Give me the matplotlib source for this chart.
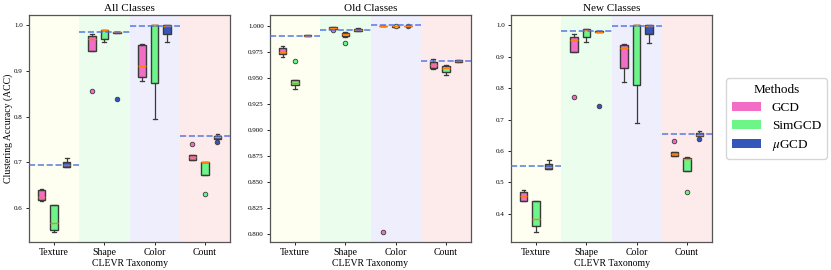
import matplotlib
matplotlib.use("Agg")
import matplotlib.pyplot as plt
from matplotlib.patches import Patch
from matplotlib.ticker import MultipleLocator, FormatStrFormatter

plt.rcParams["font.family"] = ["Liberation Serif", "DejaVu Serif"]
plt.rcParams["mathtext.fontset"] = "stix"

categories = ["Texture", "Shape", "Color", "Count"]
methods = ["GCD", "SimGCD", "$\\mu$GCD"]
method_colors = ["#f26ec6", "#6ef58a", "#3456bb"]
band_colors = ["#fefff0", "#ebfdec", "#eeeefd", "#fdebeb"]

# each row: whisker low, q1, median, q3, whisker high (one row per category)
all_gcd = [[0.615, 0.617, 0.625, 0.640, 0.641], [0.944, 0.944, 0.971, 0.976, 0.982],
           [0.878, 0.887, 0.910, 0.957, 0.958], [0.706, 0.706, 0.712, 0.717, 0.717]]
all_sim = [[0.548, 0.5525, 0.568, 0.606, 0.607], [0.963, 0.971, 0.990, 0.9905, 0.9905],
           [0.794, 0.873, 1.0, 1.0, 1.0], [0.673, 0.673, 0.700, 0.701, 0.701]]
all_mu = [[0.689, 0.690, 0.695, 0.700, 0.709], [0.984, 0.984, 0.985, 0.986, 0.986],
          [0.963, 0.982, 0.998, 1.0, 1.0], [0.752, 0.752, 0.755, 0.758, 0.762]]
all_fl_gcd = [[], [0.856], [], [0.741]]
all_fl_sim = [[], [], [], [0.630]]
all_fl_mu = [[], [0.838], [], [0.745]]
all_ref = [0.695, 0.985, 0.998, 0.757]

old_gcd = [[0.9696, 0.9727, 0.975, 0.9782, 0.9804], [0.9965, 0.9965, 0.998, 0.9985, 0.9985],
           [0.9995, 0.9995, 1.0, 1.0, 1.0], [0.9583, 0.9593, 0.962, 0.965, 0.9682]]
old_sim = [[0.9393, 0.9432, 0.945, 0.9477, 0.9477], [0.989, 0.9898, 0.992, 0.9927, 0.9942],
           [0.9985, 0.9988, 0.9995, 1.0, 1.0], [0.9525, 0.9554, 0.959, 0.9615, 0.962]]
old_mu = [[0.9898, 0.9898, 0.990, 0.9913, 0.9913], [0.9945, 0.9952, 0.996, 0.997, 0.9975],
          [1.0, 1.0, 1.0, 1.0, 1.0], [0.9653, 0.9653, 0.966, 0.9667, 0.9667]]
old_fl_gcd = [[], [0.9955], [0.802], []]
old_fl_sim = [[0.9663], [0.9836], [0.9992], []]
old_fl_mu = [[], [], [0.9995], []]
old_ref = [0.9904, 0.9959, 1.0003, 0.9663]

new_gcd = [[0.442, 0.442, 0.456, 0.469, 0.477], [0.914, 0.914, 0.952, 0.962, 0.9735],
           [0.818, 0.865, 0.929, 0.936, 0.939], [0.585, 0.585, 0.590, 0.5955, 0.5955]]
new_sim = [[0.343, 0.361, 0.382, 0.440, 0.440], [0.947, 0.962, 0.985, 0.9885, 0.9885],
           [0.690, 0.810, 1.0, 1.0, 1.0], [0.536, 0.536, 0.574, 0.576, 0.5815]]
new_mu = [[0.544, 0.544, 0.550, 0.557, 0.571], [0.978, 0.978, 0.979, 0.981, 0.981],
          [0.945, 0.9726, 0.997, 1.0, 1.0], [0.6486, 0.6486, 0.652, 0.656, 0.664]]
new_fl_gcd = [[], [0.771], [], [0.633]]
new_fl_sim = [[], [], [], [0.468]]
new_fl_mu = [[], [0.742], [], [0.637]]
new_ref = [0.552, 0.981, 0.999, 0.655]

panels = [
    ("All Classes", [all_gcd, all_sim, all_mu], [all_fl_gcd, all_fl_sim, all_fl_mu], all_ref, 0.1, "%.1f"),
    ("Old Classes", [old_gcd, old_sim, old_mu], [old_fl_gcd, old_fl_sim, old_fl_mu], old_ref, 0.025, "%.3f"),
    ("New Classes", [new_gcd, new_sim, new_mu], [new_fl_gcd, new_fl_sim, new_fl_mu], new_ref, 0.1, "%.1f"),
]

offsets = [-0.25, 0.0, 0.25]
edge = "#3a3a3a"

fig = plt.figure(figsize=(8.31, 2.70), dpi=100)
lefts = [29 / 831, 270 / 831, 511 / 831]

for p, (title, series, fliers, ref, step, fmt) in enumerate(panels):
    ax = fig.add_axes([lefts[p], 28 / 270, 201 / 831, 227 / 270])
    for i in range(len(categories)):
        ax.axvspan(i - 0.5, i + 0.5, color=band_colors[i], zorder=0, lw=0)
    for m in range(len(methods)):
        stats = []
        for i in range(len(categories)):
            lo, q1, med, q3, hi = series[m][i]
            stats.append(dict(whislo=lo, q1=q1, med=med, q3=q3, whishi=hi, fliers=fliers[m][i]))
        ax.bxp(stats, positions=[i + offsets[m] for i in range(len(categories))],
               widths=0.15, patch_artist=True, manage_ticks=False,
               boxprops=dict(facecolor=method_colors[m], edgecolor=edge, linewidth=1.0),
               medianprops=dict(color="#ff7f0e", linewidth=1.0),
               whiskerprops=dict(color=edge, linewidth=0.9),
               capprops=dict(color=edge, linewidth=0.9),
               flierprops=dict(marker="o", markerfacecolor=method_colors[m],
                               markeredgecolor=edge, markersize=3.3, markeredgewidth=0.6),
               zorder=3)
    ax.hlines(ref, [i - 0.5 for i in range(len(categories))], [i + 0.5 for i in range(len(categories))],
              colors="#4a6fe0", linestyles="--", linewidth=1.2, alpha=0.85, zorder=4)
    ax.set_xlim(-0.5, 3.5)
    ax.margins(y=0.05)
    ax.set_xticks(range(len(categories)))
    ax.set_xticklabels(categories, fontsize=7)
    ax.yaxis.set_major_locator(MultipleLocator(step))
    ax.yaxis.set_major_formatter(FormatStrFormatter(fmt))
    ax.tick_params(axis="y", labelsize=5, length=2.5, width=0.6, pad=2)
    ax.tick_params(axis="x", length=2.5, width=0.6, pad=2)
    for s in ax.spines.values():
        s.set_color("#555555")
        s.set_linewidth(0.9)
    ax.set_title(title, fontsize=8, pad=3)
    ax.set_xlabel("CLEVR Taxonomy", fontsize=7, labelpad=1)
    if p == 0:
        ax.set_ylabel("Clustering Accuracy (ACC)", fontsize=7, labelpad=1)

handles = [Patch(facecolor=c, edgecolor="none") for c in method_colors]
fig.legend(handles, methods, title="Methods", loc="center left",
           bbox_to_anchor=(0.866, 0.561), fontsize=9.5, title_fontsize=9.5,
           handlelength=2.2, handleheight=0.7, labelspacing=0.45, borderpad=0.45,
           frameon=True, edgecolor="#cccccc", fancybox=True)

fig.savefig("out.png", dpi=100)
plt.close()
